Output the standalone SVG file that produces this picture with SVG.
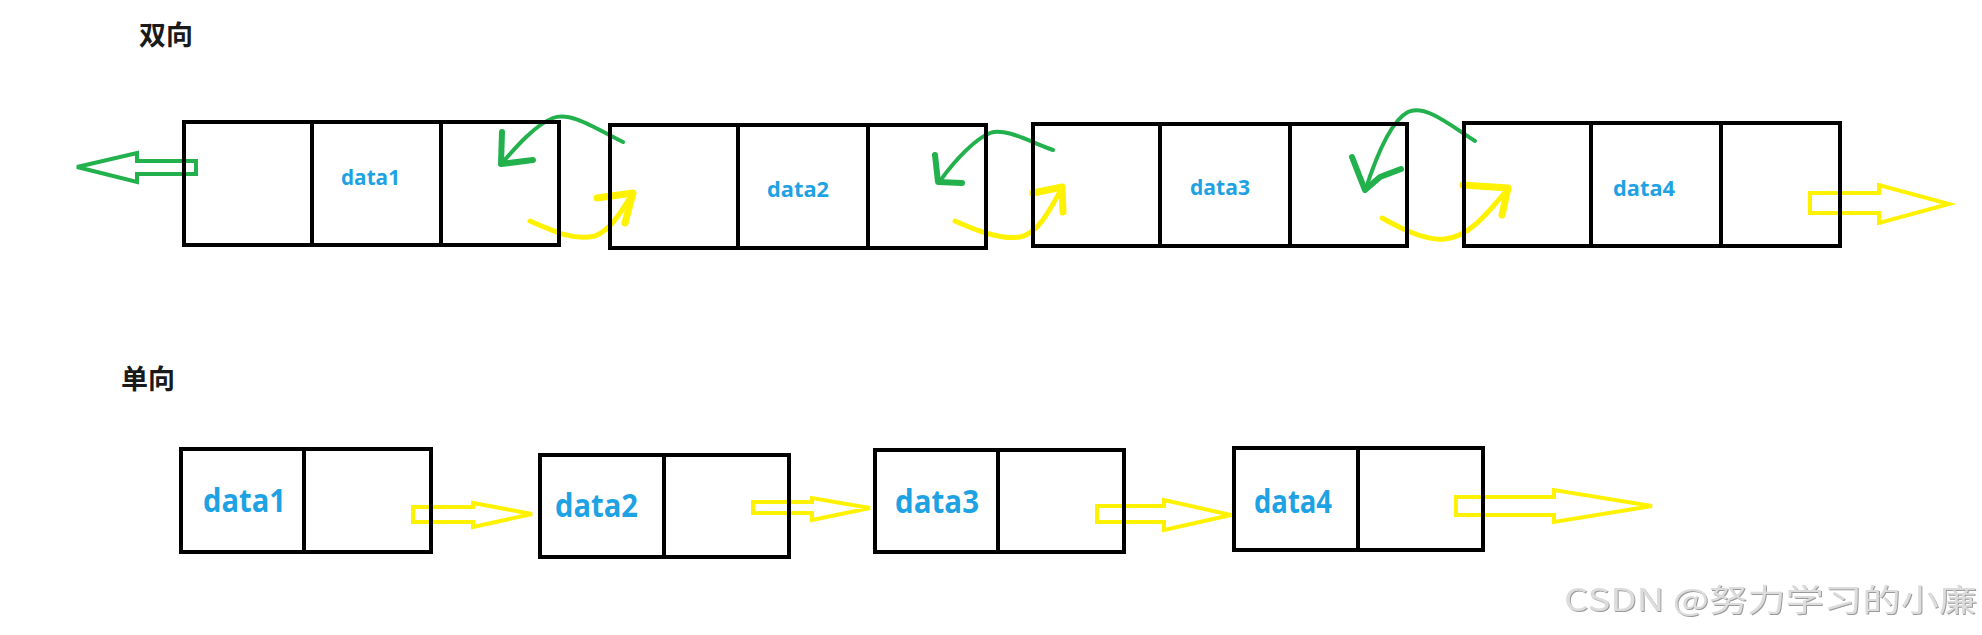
<svg xmlns="http://www.w3.org/2000/svg" width="1982" height="635" viewBox="0 0 1982 635">
<style>
.box{fill:none;stroke:#000;stroke-width:4}
.div{stroke:#000;stroke-width:4}
.lbl{font-family:"Open Sans","Liberation Sans","Noto Sans CJK SC",sans-serif;font-weight:bold;fill:#1ea2e3}
.s{font-size:22px}
.b{font-size:32px}
.title{font-family:"Noto Sans CJK SC","Liberation Sans",sans-serif;font-weight:bold;font-size:27px;fill:#1a1a1a}
.g{fill:none;stroke:#22b14c;stroke-width:4;stroke-linecap:round;stroke-linejoin:round}
.gh{fill:none;stroke:#22b14c;stroke-width:6;stroke-linecap:round;stroke-linejoin:round}
.y{fill:none;stroke:#fff200;stroke-width:5;stroke-linecap:round;stroke-linejoin:round}
.yh{fill:none;stroke:#fff200;stroke-width:7;stroke-linecap:round;stroke-linejoin:round}
.ho{fill:none;stroke-width:4;stroke-linejoin:miter}
</style>
<defs>
<filter id="emb" x="-5%" y="-20%" width="110%" height="140%">
<feDropShadow dx="1" dy="1" stdDeviation="0.6" flood-color="#8f8f8f" flood-opacity="0.9"/>
</filter>
</defs>
<rect width="1982" height="635" fill="#fff"/>
<text class="title" x="139" y="45">双向</text>
<text class="title" x="121" y="389">单向</text>

<g id="connectors">
<polygon class="ho" stroke="#22b14c" points="77,167 137,153 137,161 196,161 196,174 137,174 137,182"/>
<path class="g" d="M623,142 C595,128 570,111 553,118 C535,125 515,148 502,163"/>
<path class="gh" d="M502,132 L501,164 L533,160"/>
<path class="g" d="M1053,150 C1030,142 1005,127 990,133 C975,139 955,160 940,181"/>
<path class="gh" d="M935,155 L938,182 L962,183"/>
<path class="g" d="M1475,141 C1450,125 1425,104 1408,112 C1390,121 1375,160 1365,191"/>
<path class="gh" d="M1352,157 L1359,175 L1365,190 L1380,177 L1401,169"/>
<path class="y" d="M530,221 C555,232 575,241 595,236 C612,229 622,210 633,193"/>
<path class="yh" d="M597,198 L633,193 L625,223"/>
<path class="y" d="M955,221 C975,230 1000,240 1020,237 C1040,233 1052,205 1062,188"/>
<path class="yh" d="M1033,193 L1062,187 L1063,212"/>
<path class="y" d="M1382,218 C1400,228 1425,241 1445,239 C1470,237 1490,210 1507,190"/>
<path class="yh" d="M1463,185 L1508,188 L1502,215"/>
<polygon class="ho" stroke="#fff200" points="1810,193 1879,193 1879,185 1949,204 1879,223 1879,213 1810,213"/>
<polygon class="ho" stroke="#fff200" points="413,507 473,507 473,503 532,514 473,527 473,522 413,522"/>
<polygon class="ho" stroke="#fff200" points="753,502 812,502 812,498 870,508 812,520 812,513 753,513"/>
<polygon class="ho" stroke="#fff200" points="1097,506 1164,506 1164,500 1231,515 1164,530 1164,522 1097,522"/>
<polygon class="ho" stroke="#fff200" points="1456,497 1554,497 1554,490 1652,506 1554,522 1554,515 1456,515"/>
</g>

<g id="d1">
<rect class="box" x="184" y="122" width="375" height="123"/>
<line class="div" x1="312" y1="122" x2="312" y2="245"/>
<line class="div" x1="441" y1="122" x2="441" y2="245"/>
<text class="lbl s" x="341" y="185" textLength="59" lengthAdjust="spacingAndGlyphs">data1</text>
</g>
<g id="d2">
<rect class="box" x="610" y="125" width="376" height="123"/>
<line class="div" x1="738" y1="125" x2="738" y2="248"/>
<line class="div" x1="868" y1="125" x2="868" y2="248"/>
<text class="lbl s" x="767" y="197" textLength="62" lengthAdjust="spacingAndGlyphs">data2</text>
</g>
<g id="d3">
<rect class="box" x="1033" y="124" width="374" height="122"/>
<line class="div" x1="1160" y1="124" x2="1160" y2="246"/>
<line class="div" x1="1290" y1="124" x2="1290" y2="246"/>
<text class="lbl s" x="1190" y="195" textLength="60" lengthAdjust="spacingAndGlyphs">data3</text>
</g>
<g id="d4">
<rect class="box" x="1464" y="123" width="376" height="123"/>
<line class="div" x1="1591" y1="123" x2="1591" y2="246"/>
<line class="div" x1="1721" y1="123" x2="1721" y2="246"/>
<text class="lbl s" x="1613" y="196" textLength="62" lengthAdjust="spacingAndGlyphs">data4</text>
</g>

<g id="s1">
<rect class="box" x="181" y="449" width="250" height="103"/>
<line class="div" x1="304" y1="449" x2="304" y2="552"/>
<text class="lbl b" x="203" y="512" textLength="83" lengthAdjust="spacingAndGlyphs">data1</text>
</g>
<g id="s2">
<rect class="box" x="540" y="455" width="249" height="102"/>
<line class="div" x1="664" y1="455" x2="664" y2="557"/>
<text class="lbl b" x="555" y="517" textLength="83" lengthAdjust="spacingAndGlyphs">data2</text>
</g>
<g id="s3">
<rect class="box" x="875" y="450" width="249" height="102"/>
<line class="div" x1="998" y1="450" x2="998" y2="552"/>
<text class="lbl b" x="895" y="513" textLength="84" lengthAdjust="spacingAndGlyphs">data3</text>
</g>
<g id="s4">
<rect class="box" x="1234" y="448" width="249" height="102"/>
<line class="div" x1="1358" y1="448" x2="1358" y2="550"/>
<text class="lbl b" x="1254" y="513" textLength="78" lengthAdjust="spacingAndGlyphs">data4</text>
</g>

<text x="1564" y="611" font-family="'Noto Sans CJK SC','Liberation Sans',sans-serif" font-size="31" fill="#dcdcdc" filter="url(#emb)" textLength="413" lengthAdjust="spacingAndGlyphs">CSDN @努力学习的小廉</text>
</svg>
